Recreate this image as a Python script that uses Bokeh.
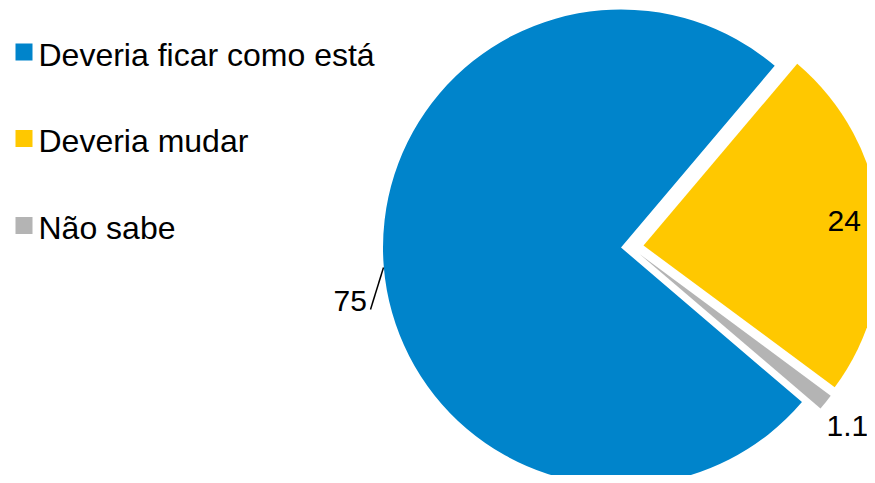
import math
from bokeh.plotting import figure
from bokeh.models import Range1d, ColumnDataSource
from bokeh.core.properties import value
from bokeh.embed import file_html
from bokeh.resources import INLINE

# ---- data ----
categories = ["Deveria ficar como está", "Deveria mudar", "Não sabe"]
values = [75, 24, 1.1]
labels = ["75", "24", "1.1"]
colors = ["#0084CB", "#FFC800", "#B4B4B4"]

# ---- layout (reference pixel space; y is negated) ----
W, H = 867, 475
p = figure(width=W, height=H, output_backend="svg", toolbar_location=None,
           x_range=Range1d(0, W), y_range=Range1d(-H, 0),
           min_border=0, outline_line_color=None)
p.axis.visible = False
p.grid.visible = False
p.background_fill_color = "white"
p.border_fill_color = "white"

FONT = value("Liberation Sans")
radius = 238
first_angle = 319.5  # degrees (math convention), slices go clockwise
centers = [(620.5, 247.0), (643.0, 245.0), (639.0, 253.5)]

total = sum(values)
cum = 0.0
xs, ys, starts, ends = [], [], [], []
for i, v in enumerate(values):
    hi = first_angle - cum / total * 360.0
    lo = hi - v / total * 360.0
    cum += v
    xs.append(centers[i][0])
    ys.append(-centers[i][1])
    starts.append(math.radians(lo))
    ends.append(math.radians(hi))

src = ColumnDataSource(dict(x=xs, y=ys, start=starts, end=ends, color=colors))
p.wedge(x="x", y="y", radius=radius, start_angle="start", end_angle="end",
        fill_color="color", line_color=None, source=src)

# data labels
lab_x = [333, 827, 826]
lab_y = [-300, -220, -425]
p.text(x=lab_x, y=lab_y, text=labels, text_font=FONT, text_font_size="30px",
       text_baseline="alphabetic", text_align="left", text_color="black")
# leader line for 75
p.line(x=[370, 383], y=[-309, -267], line_color="black", line_width=1.5)

# legend
leg_y = [51.5, 138, 225]
p.rect(x=[23.5] * 3, y=[-yy for yy in leg_y], width=17, height=17,
       fill_color=colors, line_color=None)
p.text(x=[38] * 3, y=[-(yy + 2.5) for yy in leg_y], text=categories,
       text_font=FONT, text_font_size="32px", text_baseline="alphabetic",
       text_align="left", text_color="black")

open("out.html", "w").write(file_html(p, INLINE))
